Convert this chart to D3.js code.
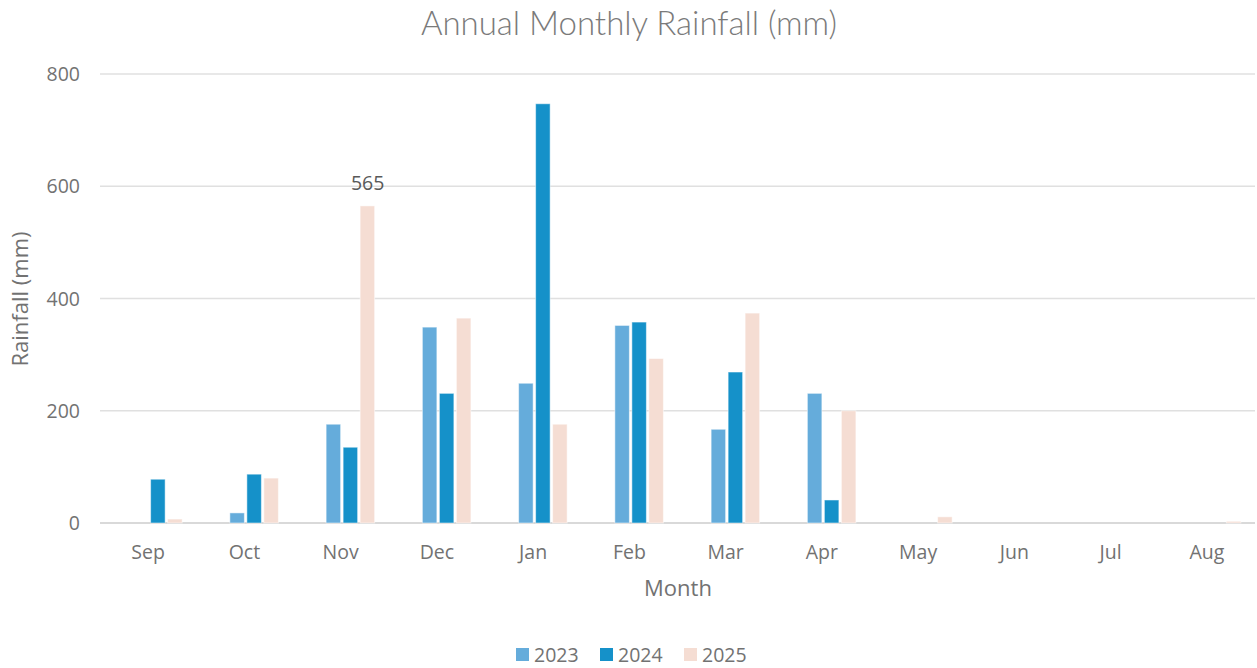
<!DOCTYPE html>
<html>
<head>
<meta charset="utf-8">
<script src="https://cdn.jsdelivr.net/npm/d3@7"></script>
<style>
  body { margin: 0; background: #fff; }
  text { font-family: "Open Sans", "Liberation Sans", sans-serif; fill: #727272; }
</style>
</head>
<body>
<div id="chart"></div>
<script>
// data
var months = ['Sep', 'Oct', 'Nov', 'Dec', 'Jan', 'Feb', 'Mar', 'Apr', 'May', 'Jun', 'Jul', 'Aug'];
var years = ['2023', '2024', '2025'];
var rain2023 = [0, 18, 176, 349, 249, 352, 167, 231, 0, 0, 0, 0];
var rain2024 = [78, 87, 135, 231, 747, 358, 269, 41, 0, 0, 0, 0];
var rain2025 = [7, 80, 565, 365, 176, 293, 374, 200, 11, 0, 0, 3];
var yTicks = [0, 200, 400, 600, 800];
var colors = ['#65acdb', '#1591c9', '#f5ddd3'];

var series = [rain2023, rain2024, rain2025];
var W = 1257, H = 668;
var m = { left: 100, right: 2, top: 74, bottom: 145 };

var svg = d3.select('#chart').append('svg')
  .attr('width', W).attr('height', H);

var x = d3.scaleBand().domain(months).range([m.left, W - m.right]);
// four slots per month, the first one stays empty (as in the original chart)
var x1 = d3.scaleBand().domain([0, 1, 2, 3]).range([1.5, x.bandwidth() + 1.5]).paddingOuter(0.83).paddingInner(0);
var y = d3.scaleLinear().domain([0, 800]).range([H - m.bottom, m.top]);

// grid
svg.append('g').selectAll('line').data(yTicks).join('line')
  .attr('x1', m.left).attr('x2', W - m.right)
  .attr('y1', d => y(d)).attr('y2', d => y(d))
  .style('stroke', d => d === 0 ? '#d9d9d9' : '#e0e0e0')
  .style('stroke-width', d => d === 0 ? 2 : 1.3);

// y labels
svg.append('g').selectAll('text').data(yTicks).join('text')
  .attr('x', 80).attr('y', d => y(d) + 7)
  .attr('text-anchor', 'end')
  .style('font-size', '19.5px')
  .text(d => d);

// bars
var g = svg.append('g');
series.forEach(function (vals, si) {
  g.append('g').selectAll('rect').data(vals).join('rect')
    .attr('x', (d, i) => x(months[i]) + x1(si + 1) + 1)
    .attr('width', x1.bandwidth() - 2.5)
    .attr('y', d => y(d))
    .attr('height', d => y(0) - y(d))
    .style('fill', colors[si])
    .style('stroke', '#ffffff')
    .style('stroke-opacity', 0.5)
    .style('stroke-width', 1);
});

// data label on Nov 2025
svg.append('text')
  .attr('x', x('Nov') + x1(3) + x1.bandwidth() / 2)
  .attr('y', y(rain2025[2]) - 16)
  .attr('text-anchor', 'middle')
  .style('font-size', '19.5px')
  .style('fill', '#595959')
  .text(rain2025[2]);

// x labels
svg.append('g').selectAll('text').data(months).join('text')
  .attr('x', d => x(d) + x.bandwidth() / 2)
  .attr('y', 559)
  .attr('text-anchor', 'middle')
  .style('font-size', '19.5px')
  .text(d => d);

// titles
svg.append('text')
  .attr('x', 629).attr('y', 35)
  .attr('text-anchor', 'middle')
  .style('font-family', 'Lato, sans-serif')
  .style('font-weight', 300)
  .style('font-size', '33px')
  .style('fill', '#7a7a7a')
  .text('Annual Monthly Rainfall (mm)');

svg.append('text')
  .attr('x', 678).attr('y', 596)
  .attr('text-anchor', 'middle')
  .style('font-size', '22px')
  .text('Month');

svg.append('text')
  .attr('transform', 'translate(28,299) rotate(-90)')
  .attr('text-anchor', 'middle')
  .style('font-size', '22px')
  .text('Rainfall (mm)');

// legend
var lg = svg.append('g').selectAll('g').data(years).join('g')
  .attr('transform', (d, i) => `translate(${516 + i * 84},648)`);
lg.append('rect').attr('width', 13).attr('height', 13)
  .style('fill', (d, i) => colors[i]);
lg.append('text').attr('x', 18).attr('y', 14)
  .style('font-size', '19.5px')
  .text(d => d);
</script>
</body>
</html>
